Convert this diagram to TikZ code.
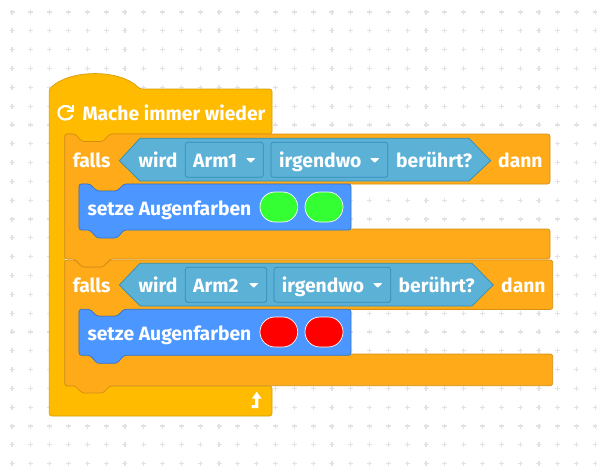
\documentclass[tikz,border=0pt]{standalone}
\usepackage{fontspec}
\setmainfont{Fira Sans}
\definecolor{LoopYellow}{RGB}{255, 187, 0}
\definecolor{LoopEdge}{RGB}{214, 158, 10}
\definecolor{IfOrange}{RGB}{255, 171, 25}
\definecolor{IfEdge}{RGB}{214, 142, 20}
\definecolor{EyeBlue}{RGB}{76, 151, 255}
\definecolor{EyeEdge}{RGB}{51, 115, 204}
\definecolor{SenseBlue}{RGB}{92, 177, 214}
\definecolor{SenseEdge}{RGB}{46, 142, 184}
\definecolor{DotGrey}{RGB}{226, 226, 226}
\definecolor{EyeGreen}{RGB}{51, 255, 51}
\usetikzlibrary{arrows.meta, positioning, calc}

\begin{document}
\begin{tikzpicture}[
    x=1pt, y=-1pt,
    every node/.style={font=\bfseries\fontsize{19.3}{22}\selectfont, text=white, inner sep=0pt, anchor=base west},
    loopblock/.style={draw=LoopEdge, fill=LoopYellow, line width=0.7pt, rounded corners=2.5pt},
    ifblock/.style={draw=IfEdge, fill=IfOrange, line width=0.7pt, rounded corners=2.5pt},
    eyeblock/.style={draw=EyeEdge, fill=EyeBlue, line width=0.7pt, rounded corners=2.5pt},
    sensebox/.style={draw=SenseEdge, fill=SenseBlue, line width=0.7pt},
    menubox/.style={sensebox, rounded corners=2.5pt},
    eyeoval/.style={draw=white, line width=0.7pt, rounded corners=14.9pt}
]
\useasboundingbox (0,0) rectangle (597,472);
\fill[white] (0,0) rectangle (597,472);
% dotted background
\foreach \i in {0,...,31} {
  \foreach \j in {0,...,24} {
    \draw[DotGrey, line width=1.2pt] ({12+18.82*\i-2.5},{12+18.82*\j}) -- ++(5,0) ({12+18.82*\i},{12+18.82*\j-2.5}) -- ++(0,5);
  }
}
% outer loop
\draw[loopblock] (49.3,416) -- (49.3,89) .. controls (70,69) and (120,69) .. (140,89) -- (272,89) -- (272,134) -- (110,134) -- (103,142) -- (82,142) -- (75,134) -- (64.7,134) -- (64.7,386) -- (272,386) -- (272,416) -- cycle;
% second if
\draw[ifblock] (64.7,260) -- (75,260) -- (82,267) -- (103,267) -- (110,260) -- (552.7,260) -- (552.7,309.5) -- (124,309.5) -- (117,316) -- (97,316) -- (90,309.5) -- (79,309.5) -- (79,354) -- (552.7,354) -- (552.7,385.7) -- (110,385.7) -- (103,393) -- (82,393) -- (75,385.7) -- (64.7,385.7) -- cycle;
% first if
\draw[ifblock] (64.7,134) -- (75,134) -- (82,141.5) -- (103,141.5) -- (110,134) -- (550,134) -- (550,184) -- (124,184) -- (117,191) -- (97,191) -- (90,184) -- (79,184) -- (79,229) -- (550,229) -- (550,259) -- (110,259) -- (103,267) -- (82,267) -- (75,259) -- (64.7,259) -- cycle;
% eye colour blocks
\foreach \dy in {0,125.3} {
  \begin{scope}[yshift=-\dy pt]
  \draw[eyeblock] (79,184) -- (90,184) -- (97,191) -- (117,191) -- (124,184) -- (351,184) -- (351,230) -- (124,230) -- (117,238) -- (97,238) -- (90,230) -- (79,230) -- cycle;
  \end{scope}
}
% sensing hexagons
\draw[sensebox] (119.3,160.7) -- (140,138.3) -- (469,138.3) -- (490.7,160.7) -- (469,181) -- (140,181) -- cycle;
\draw[sensebox] (119.3,285) -- (140,263.3) -- (472,263.3) -- (493.3,285) -- (472,306) -- (140,306) -- cycle;
\draw[menubox] (185.3,142.3) rectangle (263.3,177.3);
\draw[menubox] (271,142.3) rectangle (387.7,177.3);
\draw[menubox] (185.3,267.3) rectangle (266.7,302.3);
\draw[menubox] (274,267.3) rectangle (390.7,302.3);
% menu triangles
\foreach \mx/\my in {246/158, 370/158, 249/283, 373/283} {
  \fill[white, rounded corners=0.8pt] (\mx,\my) -- ++(9.5,0) -- ++(-4.75,5) -- cycle;
}
% eye ovals
\draw[eyeoval, fill=EyeGreen] (260,192) rectangle (297.7,222);
\draw[eyeoval, fill=EyeGreen] (305,192) rectangle (343,222);
\draw[eyeoval, fill=red] (260,317) rectangle (297.7,347);
\draw[eyeoval, fill=red] (305,317) rectangle (343,347);
% loop icons
\draw[white, line width=2.2pt] (72,109) .. controls (68,104) and (59,105) .. (58.5,112.5) .. controls (58.5,121) and (70,122) .. (72.5,115);
\draw[white, line width=2pt] (72.5,104.5) -- (72.5,111) -- (66.5,111);
\fill[white] (256.7,391.7) -- (261.5,398.5) -- (258.4,398.5) -- (258.4,408) -- (251.5,408) -- (251.5,405) -- (255,405) -- (255,398.5) -- (252,398.5) -- cycle;
% texts
\node (mache) at (82.3,120) {Mache immer wieder};
\node (falls1) at (72.7,167.4) {falls};
\node (wird1) at (138.5,167.4) {wird};
\node (arm1) at (193,167.4) {Arm1};
\node (any1) at (279,167.4) {irgendwo};
\node (touch1) at (396,167.4) {berührt?};
\node (dann1) at (498,167.4) {dann};
\node (setze1) at (87.3,215.7) {setze Augenfarben};
\node (falls2) at (72.7,292.4) {falls};
\node (wird2) at (138.5,292.4) {wird};
\node (arm2) at (193,292.4) {Arm2};
\node (any2) at (281.7,292.4) {irgendwo};
\node (touch2) at (398.5,292.4) {berührt?};
\node (dann2) at (501,292.4) {dann};
\node (setze2) at (87.3,340.7) {setze Augenfarben};
\end{tikzpicture}
\end{document}
